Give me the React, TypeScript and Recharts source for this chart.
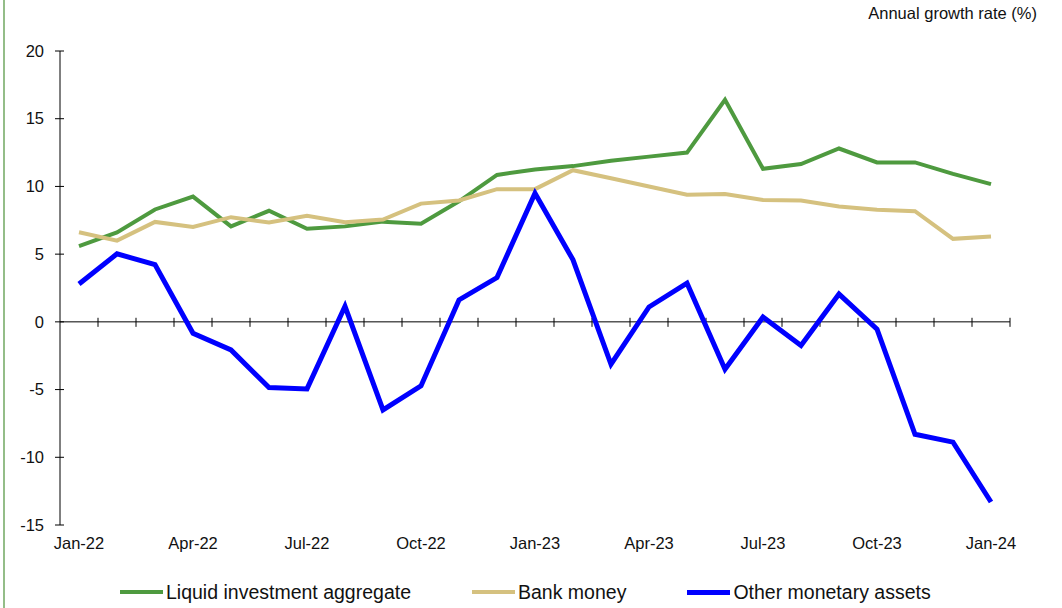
import React from 'react';
import { LineChart, Line, XAxis, YAxis, ReferenceLine } from 'recharts';

const months = [
  'Jan-22', 'Feb-22', 'Mar-22', 'Apr-22', 'May-22', 'Jun-22', 'Jul-22', 'Aug-22', 'Sep-22', 'Oct-22', 'Nov-22', 'Dec-22',
  'Jan-23', 'Feb-23', 'Mar-23', 'Apr-23', 'May-23', 'Jun-23', 'Jul-23', 'Aug-23', 'Sep-23', 'Oct-23', 'Nov-23', 'Dec-23',
  'Jan-24',
];
const liquid = [5.6, 6.6, 8.3, 9.25, 7.05, 8.2, 6.87, 7.05, 7.4, 7.25, 8.9, 10.85, 11.25, 11.5, 11.9, 12.2, 12.5, 16.4, 11.3, 11.65, 12.8, 11.77, 11.77, 10.93, 10.17];
const bank = [6.62, 6.0, 7.38, 7.0, 7.73, 7.33, 7.83, 7.36, 7.55, 8.73, 8.96, 9.8, 9.8, 11.2, 10.6, 10.0, 9.38, 9.44, 9.0, 8.96, 8.52, 8.27, 8.17, 6.13, 6.3];
const other = [2.8, 5.02, 4.23, -0.84, -2.07, -4.85, -4.95, 1.15, -6.5, -4.73, 1.62, 3.27, 9.5, 4.58, -3.13, 1.1, 2.86, -3.5, 0.35, -1.75, 2.05, -0.54, -8.3, -8.88, -13.3];

const yTicks = [-15, -10, -5, 0, 5, 10, 15, 20];
const xLabelTicks = [0, 3, 6, 9, 12, 15, 18, 21, 24];
const boundaries = months.map((_, i) => i + 0.5);

const series = [
  { key: 'liquid', name: 'Liquid investment aggregate', color: '#4e9a3f', width: 4 },
  { key: 'bank', name: 'Bank money', color: '#d5c17f', width: 4 },
  { key: 'other', name: 'Other monetary assets', color: '#0000ff', width: 5 },
];

const data = months.map((m, i) => ({ idx: i, month: m, liquid: liquid[i], bank: bank[i], other: other[i] }));

const FONT = '"Liberation Sans", Arial, Helvetica, sans-serif';

const YTick = (props: any) => {
  const { x, y, payload } = props;
  return (
    <g>
      <line x1={x + 16} x2={x + 20} y1={y} y2={y} stroke="#000" strokeWidth={1} />
      <text x={x} y={y} dy="0.35em" textAnchor="end" fontSize={16.5} fontFamily={FONT} fill="#111">
        {payload.value}
      </text>
    </g>
  );
};

const XTick = (props: any) => {
  const { x, y, payload } = props;
  return (
    <text x={x} y={y} dy="0.75em" textAnchor="middle" fontSize={16.5} fontFamily={FONT} fill="#111">
      {months[payload.value]}
    </text>
  );
};

export default function App() {
  return (
    <div style={{ position: 'absolute', left: 0, top: 0, width: 1062, height: 608, background: '#fff', fontFamily: FONT, overflow: 'hidden' }}>
      <div style={{ position: 'absolute', left: 3, top: 0, width: 2, height: 608, background: '#94bd88' }} />
      <div style={{ position: 'absolute', right: 25, top: 4, fontSize: 16.5, color: '#111', whiteSpace: 'nowrap' }}>
        Annual growth rate (%)
      </div>
      <div style={{ position: 'absolute', left: 0, top: 0 }}>
        <LineChart width={1062} height={608} data={data} margin={{ top: 51, right: 52, left: 0, bottom: 0 }}>
          <XAxis
            dataKey="idx"
            type="number"
            domain={[-0.5, 24.5]}
            ticks={xLabelTicks}
            interval={0}
            axisLine={false}
            tickLine={false}
            tickSize={0}
            tickMargin={12}
            height={83}
            tick={<XTick />}
          />
          <YAxis
            type="number"
            domain={[-15, 20]}
            ticks={yTicks}
            interval={0}
            width={60}
            axisLine={{ stroke: '#000', strokeWidth: 1 }}
            tickLine={{ stroke: '#000', strokeWidth: 1 }}
            tickSize={5}
            tickMargin={11}
            tick={<YTick />}
          />
          <ReferenceLine y={0} stroke="#000" strokeWidth={1} ifOverflow="visible" />
          {boundaries.map((b) => (
            <ReferenceLine
              key={b}
              segment={[{ x: b, y: -0.37 }, { x: b, y: 0.3 }]}
              stroke="#000"
              strokeWidth={1}
              ifOverflow="visible"
            />
          ))}
          {series.map((s) => (
            <Line
              key={s.key}
              dataKey={s.key}
              name={s.name}
              stroke={s.color}
              strokeWidth={s.width}
              dot={false}
              activeDot={false}
              type="linear"
              isAnimationActive={false}
            />
          ))}
        </LineChart>
      </div>
      <div style={{ position: 'absolute', left: 120, top: 580, height: 24, display: 'flex', alignItems: 'center', gap: 61, fontSize: 19.5, color: '#111', whiteSpace: 'nowrap' }}>
        {series.map((s) => (
          <div key={s.key} style={{ display: 'flex', alignItems: 'center' }}>
            <div style={{ width: 43, height: s.width, background: s.color, marginRight: 3 }} />
            <span>{s.name}</span>
          </div>
        ))}
      </div>
    </div>
  );
}
